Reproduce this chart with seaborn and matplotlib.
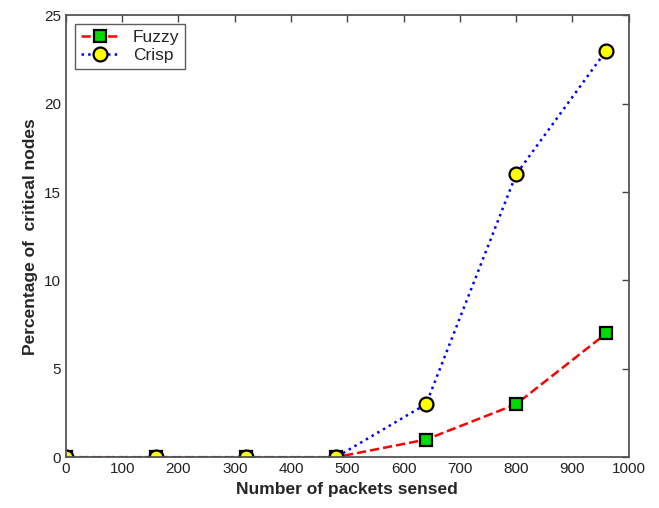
import matplotlib
matplotlib.use("Agg")
import matplotlib.pyplot as plt
import seaborn as sns
import pandas as pd

# data
packets = [0, 160, 320, 480, 640, 800, 960]
fuzzy = [0, 0, 0, 0, 1, 3, 7]
crisp = [0, 0, 0, 0, 3, 16, 23]

sns.set_style("white")
plt.rcParams['font.family'] = ['Liberation Sans', 'DejaVu Sans']

df = pd.DataFrame({'packets': packets, 'Fuzzy': fuzzy, 'Crisp': crisp})

fig = plt.figure(figsize=(6.59, 5.08), dpi=100)
ax = fig.add_axes([0.100, 0.100, 0.854, 0.870])

sns.lineplot(data=df, x='packets', y='Fuzzy', ax=ax, color='red', linestyle='--',
             linewidth=1.8, marker='s', markersize=9, markerfacecolor='#00dd00',
             markeredgecolor='black', markeredgewidth=1.6, label='Fuzzy')
sns.lineplot(data=df, x='packets', y='Crisp', ax=ax, color='blue', linestyle=':',
             linewidth=1.8, marker='o', markersize=10, markerfacecolor='yellow',
             markeredgecolor='black', markeredgewidth=1.6, label='Crisp')

ax.set_xlim(0, 1000)
ax.set_ylim(0, 25)
ax.set_xticks(range(0, 1001, 100))
ax.set_yticks(range(0, 26, 5))
ax.tick_params(direction='in', top=True, right=True, length=5, width=1,
               color='#444444', labelsize=11, labelcolor='#222222')
for s in ax.spines.values():
    s.set_visible(True)
    s.set_color('#555555')
    s.set_linewidth(1.3)

ax.set_xlabel('Number of packets sensed', fontsize=12.5, fontweight='bold')
ax.set_ylabel('Percentage of  critical nodes', fontsize=12.5, fontweight='bold')

leg = ax.legend(loc='upper left', fontsize=12.5, frameon=True, fancybox=False,
                edgecolor='#333333', borderaxespad=0.5, handlelength=2.2,
                borderpad=0.35, labelspacing=0.15, handletextpad=0.8)
leg.get_frame().set_linewidth(1.0)

fig.savefig('out.png', dpi=100)
